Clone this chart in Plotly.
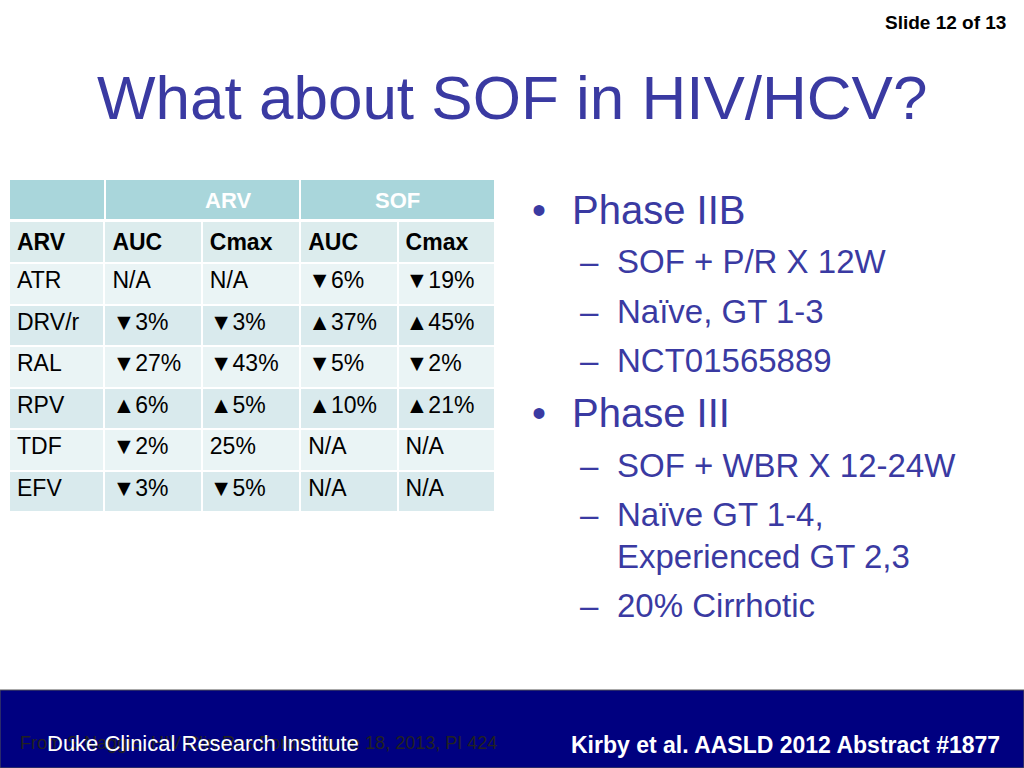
import plotly.graph_objects as go

groups = ["ARV", "SOF"]
col_headers = ["ARV", "AUC", "Cmax", "AUC", "Cmax"]
drugs = ["ATR", "DRV/r", "RAL", "RPV", "TDF", "EFV"]
arv_auc = ["N/A", "▼3%", "▼27%", "▲6%", "▼2%", "▼3%"]
arv_cmax = ["N/A", "▼3%", "▼43%", "▲5%", "25%", "▼5%"]
sof_auc = ["▼6%", "▲37%", "▼5%", "▲10%", "N/A", "N/A"]
sof_cmax = ["▼19%", "▲45%", "▼2%", "▲21%", "N/A", "N/A"]

W, H = 1024, 768
def px(x): return x / W
def py(y): return 1 - y / H

F = "Liberation Sans, Arial"
row_fill = ["#eaf4f5", "#d9eaed"] * 3
fig = go.Figure(go.Table(
    domain=dict(x=[px(9), px(495)], y=[py(514), py(221)]),
    columnwidth=[95, 97, 98, 97, 97],
    header=dict(values=["<b>%s</b>" % c for c in col_headers],
                fill_color="#dceced", line=dict(color="white", width=2),
                align="left", height=41,
                font=dict(family=F, size=23, color="black")),
    cells=dict(values=[drugs, arv_auc, arv_cmax, sof_auc, sof_cmax],
               fill_color=[row_fill] * 5, line=dict(color="white", width=2),
               align="left", height=41.5,
               font=dict(family=F, size=23, color="black")),
))

shapes = [
    dict(type="rect", xref="paper", yref="paper", x0=px(10), x1=px(494), y0=py(219), y1=py(180),
         fillcolor="#a9d6db", line=dict(width=0)),
    dict(type="line", xref="paper", yref="paper", x0=px(105), x1=px(105), y0=py(219), y1=py(180),
         line=dict(color="white", width=2)),
    dict(type="line", xref="paper", yref="paper", x0=px(300), x1=px(300), y0=py(219), y1=py(180),
         line=dict(color="white", width=2)),
    dict(type="rect", xref="paper", yref="paper", x0=0, x1=1, y0=0, y1=py(690),
         fillcolor="#000080", line=dict(color="#555", width=1)),
]

blue = "#3a3aa2"
ann = [
    dict(x=px(203), y=py(200), text="<b>ARV</b>", font=dict(family=F, size=22, color="white")),
    dict(x=px(397), y=py(200), text="<b>SOF</b>", font=dict(family=F, size=22, color="white")),
    dict(x=px(1008), y=py(22), text="<b>Slide 12 of 13</b>", xanchor="right", font=dict(family=F, size=19, color="black")),
    dict(x=px(512), y=py(98), text="What about SOF in HIV/HCV?", font=dict(family=F, size=62, color=blue)),
]
bul = [
    (530, 210, "•", 40), (570, 210, "Phase IIB", 40),
    (578, 262, "–", 33), (615, 262, "SOF + P/R X 12W", 33),
    (578, 311, "–", 33), (615, 311, "Naïve, GT 1-3", 33),
    (578, 360, "–", 33), (615, 360, "NCT01565889", 33),
    (530, 413, "•", 40), (570, 413, "Phase III", 40),
    (578, 465, "–", 33), (615, 465, "SOF + WBR X 12-24W", 33),
    (578, 514, "–", 33), (615, 514, "Naïve GT 1-4,", 33),
    (615, 556, "Experienced GT 2,3", 33),
    (578, 605, "–", 33), (615, 605, "20% Cirrhotic", 33),
]
for x, y, t, s in bul:
    ann.append(dict(x=px(x), y=py(y), text=t, xanchor="left", font=dict(family=F, size=s, color=blue)))
ann += [
    dict(x=px(18), y=py(743), text="From S Naggie, HIV Clin Res Forum, June 18, 2013, PI 424", xanchor="left",
         font=dict(family=F, size=18, color="#222222")),
    dict(x=px(45), y=py(743), text="Duke Clinical Research Institute", xanchor="left",
         font=dict(family=F, size=22, color="white")),
    dict(x=px(1002), y=py(745), text="<b>Kirby et al. AASLD 2012 Abstract #1877</b>", xanchor="right",
         font=dict(family=F, size=23, color="white")),
]
for a in ann:
    a.setdefault("xref", "paper"); a.setdefault("yref", "paper"); a["showarrow"] = False
    a.setdefault("yanchor", "middle")

fig.update_layout(width=W, height=H, margin=dict(l=0, r=0, t=0, b=0),
                  paper_bgcolor="white", plot_bgcolor="white",
                  shapes=shapes, annotations=ann)
fig.write_html("out.html", config={"displayModeBar": False})
with open("out.html", encoding="utf-8") as f:
    html = f.read()
html = html.replace("<body>", '<body style="margin:0;overflow:hidden">', 1)
with open("out.html", "w", encoding="utf-8") as f:
    f.write(html)
